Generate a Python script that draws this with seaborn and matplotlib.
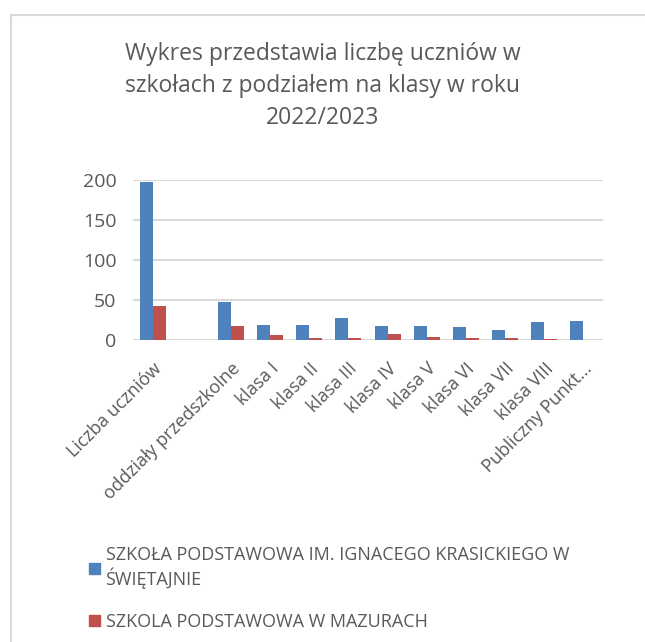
import numpy as np
import pandas as pd
import matplotlib
matplotlib.use("Agg")
import matplotlib.pyplot as plt
import seaborn as sns
from matplotlib.patches import Rectangle

# Data
categories = ["Liczba uczniów", "", "oddziały przedszkolne", "klasa I", "klasa II",
              "klasa III", "klasa IV", "klasa V", "klasa VI", "klasa VII",
              "klasa VIII", "Publiczny Punkt..."]
swietajno = [197, np.nan, 48, 19, 19, 27, 18, 18, 16, 12, 23, 24]
mazury = [42, np.nan, 17, 6, 2, 3, 7, 4, 2, 2, 1, 0]
series = ["SZKOŁA PODSTAWOWA IM. IGNACEGO KRASICKIEGO W\nŚWIĘTAJNIE",
          "SZKOLA PODSTAWOWA W MAZURACH"]
colors = ["#4F81BD", "#C0504D"]

df = pd.DataFrame({
    "kategoria": categories * 2,
    "liczba": swietajno + mazury,
    "szkola": [series[0]] * len(categories) + [series[1]] * len(categories),
})

sns.set_style("white")
plt.rcParams["font.family"] = ["Open Sans", "DejaVu Sans"]
txt = "#595959"

fig = plt.figure(figsize=(6.45, 6.42), dpi=100)
ax = fig.add_axes([133 / 645, 1 - 340 / 642, 470 / 645, 160 / 642])

sns.barplot(data=df, x="kategoria", y="liczba", hue="szkola", palette=colors,
            width=0.66, saturation=1, ax=ax, legend=False)

for p in ax.patches:
    p.set_edgecolor("none")

ax.set_ylim(0, 200)
ax.set_yticks([0, 50, 100, 150, 200])
ax.yaxis.grid(True, color="#D9D9D9", linewidth=1.5)
ax.set_axisbelow(True)
for s in ax.spines.values():
    s.set_visible(False)
ax.set_xlabel("")
ax.set_ylabel("")
ax.tick_params(axis="y", labelsize=14, colors=txt, length=0, pad=12)
ax.tick_params(axis="x", labelsize=13, colors=txt, length=0, pad=14)
plt.setp(ax.get_xticklabels(), rotation=45, ha="right", rotation_mode="anchor")

fig.text(0.5, 1 - 86 / 642,
         "Wykres przedstawia liczbę uczniów w\nszkołach z podziałem na klasy w roku\n2022/2023",
         ha="center", va="center", fontsize=16.5, color=txt, linespacing=1.45)

handles = [Rectangle((0, 0), 1, 1, color=c) for c in colors]
fig.legend(handles, series, loc="upper left", bbox_to_anchor=(73 / 645, 1 - 530 / 642),
           frameon=False, fontsize=13, labelcolor=txt, handlelength=0.6,
           handleheight=0.6, handletextpad=0.3, labelspacing=1.3)

fig.patches.append(Rectangle((11 / 645, -0.1), 1.1, 1 - 15 / 642 + 0.1,
                             transform=fig.transFigure, fill=False,
                             edgecolor="#D9D9D9", linewidth=1.5))

fig.savefig("out.png", dpi=100)
